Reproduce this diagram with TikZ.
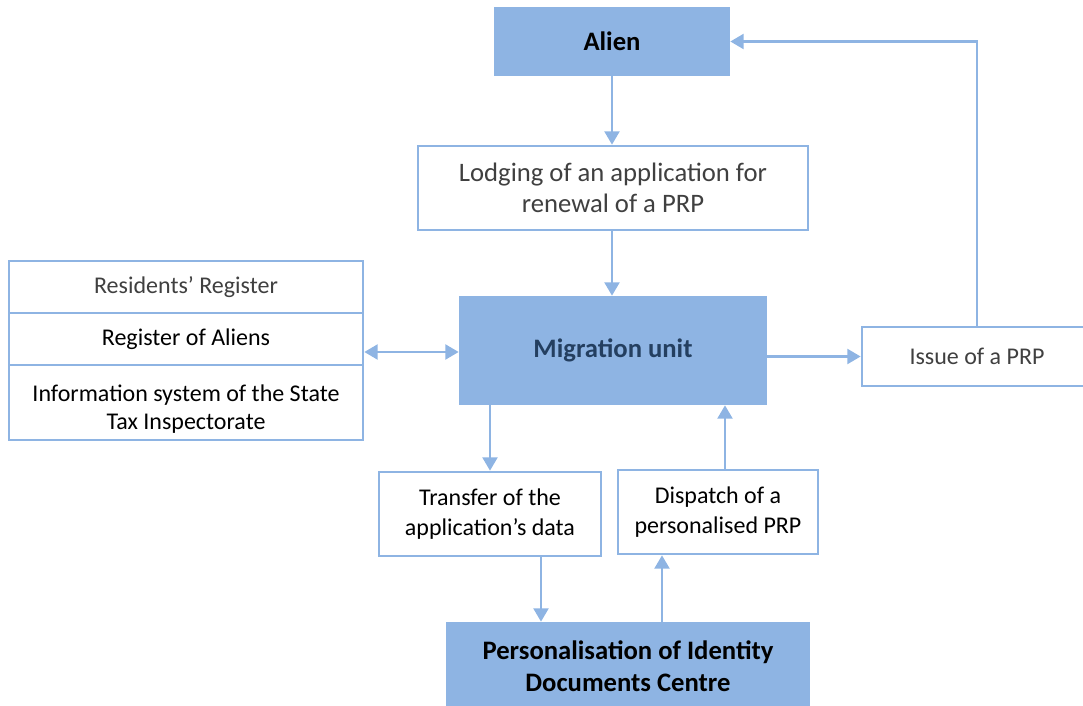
\documentclass[tikz,border=0pt]{standalone}
\usepackage{fontspec}
\setmainfont{Carlito}
\usetikzlibrary{arrows.meta,calc}
\definecolor{boxblue}{HTML}{8EB4E3}
\definecolor{linecol}{HTML}{8EB4E3}
\definecolor{graytext}{HTML}{404040}
\definecolor{darktext}{HTML}{243F60}
\begin{document}
\begin{tikzpicture}[x=0.75pt,y=-0.75pt,
  filled/.style={fill=boxblue, draw=none, inner sep=0pt, align=center,
    font=\bfseries\fontsize{20}{24}\selectfont},
  plain/.style={draw=linecol, line width=1.9pt, fill=white, inner sep=0pt, align=center,
    font=\fontsize{18}{22}\selectfont},
  conn/.style={draw=linecol, line width=2.2pt, -{Triangle[length=10pt,width=11pt]}},
]
\useasboundingbox (0,0) rectangle (1083,706);
% nodes
\node[filled, minimum width=177pt, minimum height=51.75pt] (alien) at (612,41.5) {Alien};
\node[plain, minimum width=292.5pt, minimum height=63pt, text=graytext,
  font=\fontsize{20}{23}\selectfont] (lodge) at (613,188)
  {Lodging of an application for\\renewal of a PRP};
\node[filled, minimum width=231pt, minimum height=81.75pt, text=darktext] (mig) at (613,350.5) {Migration unit};
\node[plain, minimum width=265.5pt, minimum height=39pt, text=graytext] (res) at (186,287) {Residents’ Register};
\node[plain, minimum width=265.5pt, minimum height=39pt] (rega) at (186,339) {Register of Aliens};
\node[plain, minimum width=265.5pt, minimum height=56.25pt, font=\fontsize{18}{21}\selectfont] (info) at (186,402.5)
  {\rule{0pt}{22pt}Information system of the State\\Tax Inspectorate};
\node[plain, minimum width=172.5pt, minimum height=44.25pt, text=graytext] (issue) at (977,356.5) {Issue of a PRP};
\node[plain, minimum width=166.5pt, minimum height=63pt] (trans) at (490,514)
  {Transfer of the\\application’s data};
\node[plain, minimum width=150pt, minimum height=63pt] (disp) at (718,512)
  {Dispatch of a\\personalised PRP};
\node[filled, minimum width=273pt, minimum height=66pt] (pidc) at (628,666)
  {Personalisation of Identity\\Documents Centre};
% connectors
\draw[conn] (alien.south) -- (alien.south |- lodge.north);
\draw[conn] (lodge.south -| alien.south) -- (alien.south |- mig.north);
\draw[conn, {Triangle[length=10pt,width=11pt]}-{Triangle[length=10pt,width=11pt]}]
  ([yshift=-9.75pt]rega.east) -- ([yshift=-9.75pt]rega.east -| mig.west);
\draw[conn] (mig.east |- issue.west) -- (issue.west);
\draw[conn] (issue.north) |- (alien.east);
\draw[conn] (trans.north |- mig.south) -- (trans.north);
\draw[conn] ([xshift=38.25pt]trans.south) -- ([xshift=38.25pt]trans.south |- pidc.north);
\draw[conn] ([xshift=-42pt]disp.south |- pidc.north) -- ([xshift=-42pt]disp.south);
\draw[conn] ([xshift=5.25pt]disp.north) -- ([xshift=5.25pt]disp.north |- mig.south);
\end{tikzpicture}
\end{document}
